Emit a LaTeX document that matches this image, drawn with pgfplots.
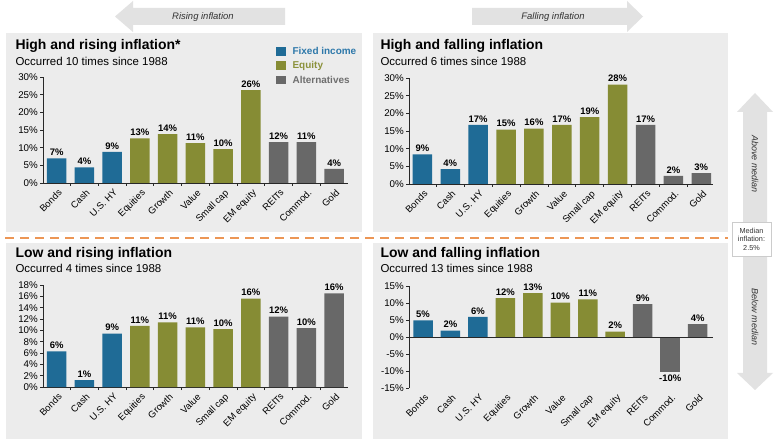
\documentclass[border=0pt]{standalone}
\usepackage{fontspec}
\setmainfont{Liberation Sans}
\usepackage{pgfplots}
\pgfplotsset{compat=1.18}

\definecolor{fi}{RGB}{31,107,150}
\definecolor{eq}{RGB}{134,140,52}
\definecolor{al}{RGB}{104,104,104}
\definecolor{fiT}{RGB}{45,120,170}
\definecolor{eqT}{RGB}{140,146,60}
\definecolor{alT}{RGB}{110,110,110}
\definecolor{panel}{RGB}{236,236,236}
\definecolor{arrowc}{RGB}{226,226,226}
\definecolor{dashc}{RGB}{236,150,85}
\definecolor{axc}{RGB}{40,40,40}

\pgfplotsset{
  panelaxis/.style={
    scale only axis, anchor=south west,
    ybar, bar width=19.5bp, bar shift=0pt,
    axis x line*=bottom, axis y line*=left,
    axis line style={axc, line width=0.7bp},
    xtick={0,...,10},
    xticklabels={Bonds,Cash,U.S. HY,Equities,Growth,Value,Small cap,EM equity,REITs,Commod.,Gold},
    xticklabel style={rotate=45, anchor=north east, inner sep=1bp, yshift=-1.5bp, font=\fontsize{9.5}{10}\selectfont},
    every major x tick/.append style={draw=none},
    minor xtick={0.5,1.5,...,9.5},
    tick align=outside, major tick length=3bp, minor tick length=3bp,
    tick style={axc, line width=0.6bp},
    /pgf/number format/assume math mode=true,
    yticklabel={\pgfmathprintnumber{\tick}\%},
    yticklabel style={font=\fontsize{9.8}{10}\selectfont, inner sep=2bp},
    nodes near coords={\pgfplotspointmeta\%},
    point meta=explicit symbolic,
    nodes near coords style={font=\bfseries\fontsize{9.5}{10}\selectfont, inner sep=2.5bp, text=black},
    every axis plot/.append style={draw=none},
    enlargelimits=false, clip=false,
  }
}

\begin{document}
\begin{tikzpicture}
\path[use as bounding box, fill=white] (0,0) rectangle (780bp,442bp);

% panels
\fill[panel] (6bp,409bp) rectangle (362bp,210bp);
\fill[panel] (373bp,409bp) rectangle (728bp,210bp);
\fill[panel] (6bp,199bp) rectangle (362bp,3bp);
\fill[panel] (373bp,199bp) rectangle (728bp,3bp);

% dashed separator
\draw[dashc, line width=2bp, dash pattern=on 9bp off 6bp] (5bp,204bp) -- (728bp,204bp);

% top arrows
\fill[arrowc] (115bp,425.5bp) -- (133bp,441bp) -- (133bp,434bp) -- (285bp,434bp) -- (285bp,417bp) -- (133bp,417bp) -- (133bp,410bp) -- cycle;
\node[font=\itshape\fontsize{9.5}{10}\selectfont, text=black!80] at (203bp,425bp) {Rising inflation};
\fill[arrowc] (643bp,425.5bp) -- (627bp,441bp) -- (627bp,434bp) -- (472bp,434bp) -- (472bp,417bp) -- (627bp,417bp) -- (627bp,410bp) -- cycle;
\node[font=\itshape\fontsize{9.5}{10}\selectfont, text=black!80] at (553bp,425bp) {Falling inflation};

% right vertical arrow
\fill[arrowc] (755bp,349bp) -- (773bp,330bp) -- (767bp,330bp) -- (767bp,69bp) -- (773bp,69bp) -- (755bp,52bp) -- (737bp,69bp) -- (743bp,69bp) -- (743bp,330bp) -- (737bp,330bp) -- cycle;
\node[rotate=-90, font=\itshape\fontsize{9}{10}\selectfont, text=black!80] at (755bp,278bp) {Above median};
\node[rotate=-90, font=\itshape\fontsize{9}{10}\selectfont, text=black!80] at (755bp,125bp) {Below median};
\draw[fill=white, draw=black!20, line width=0.8bp] (732bp,220bp) rectangle (771bp,186bp);
\node[align=center, font=\fontsize{7.3}{8.6}\selectfont, text=black!80] at (751.5bp,203bp) {Median\\inflation:\\2.5\%};

% titles
\node[anchor=base west, font=\bfseries\fontsize{14}{15}\selectfont] at (12bp,392bp) {High and rising inflation*};
\node[anchor=base west, font=\fontsize{11.5}{13}\selectfont] at (12bp,376bp) {Occurred 10 times since 1988};
\node[anchor=base west, font=\bfseries\fontsize{14}{15}\selectfont] at (377bp,392bp) {High and falling inflation};
\node[anchor=base west, font=\fontsize{11.5}{13}\selectfont] at (377bp,376bp) {Occurred 6 times since 1988};
\node[anchor=base west, font=\bfseries\fontsize{14}{15}\selectfont] at (12bp,184bp) {Low and rising inflation};
\node[anchor=base west, font=\fontsize{11.5}{13}\selectfont] at (12bp,169bp) {Occurred 4 times since 1988};
\node[anchor=base west, font=\bfseries\fontsize{14}{15}\selectfont] at (377bp,184bp) {Low and falling inflation};
\node[anchor=base west, font=\fontsize{11.5}{13}\selectfont] at (377bp,169bp) {Occurred 13 times since 1988};

% High and rising
\begin{axis}[panelaxis, at={(43bp,259bp)}, width=305bp, height=106bp,
  xmin=-0.49, xmax=10.5, ymin=0, ymax=30, ytick={0,5,...,30},
  legend style={at={(axis description cs:0.762,1.30)}, anchor=north west, draw=none, fill=none,
    font=\bfseries\fontsize{10}{10}\selectfont, row sep=1.5bp, inner sep=0pt, cells={anchor=west}},
  legend image code/.code={\fill[#1] (0bp,-4bp) rectangle (10bp,4.5bp); \path (15bp,0bp);},
]
\addplot[fill=fi] coordinates {(0,7.0)[7] (1,4.4)[4] (2,8.8)[9]};
\addlegendentry{\textcolor{fiT}{Fixed income}}
\addplot[fill=eq] coordinates {(3,12.6)[13] (4,13.8)[14] (5,11.3)[11] (6,9.6)[10] (7,26.3)[26]};
\addlegendentry{\textcolor{eqT}{Equity}}
\addplot[fill=al] coordinates {(8,11.6)[12] (9,11.6)[11] (10,4.0)[4]};
\addlegendentry{\textcolor{alT}{Alternatives}}
\end{axis}

% High and falling
\begin{axis}[panelaxis, at={(409bp,258bp)}, width=304bp, height=106bp,
  xmin=-0.48, xmax=10.42, ymin=0, ymax=30, ytick={0,5,...,30}]
\addplot[fill=fi] coordinates {(0,8.4)[9] (1,4.2)[4] (2,16.7)[17]};
\addplot[fill=eq] coordinates {(3,15.4)[15] (4,15.7)[16] (5,16.7)[17] (6,18.9)[19] (7,28.1)[28]};
\addplot[fill=al] coordinates {(8,16.7)[17] (9,2.3)[2] (10,3.1)[3]};
\end{axis}

% Low and rising
\begin{axis}[panelaxis, at={(43bp,55bp)}, width=305bp, height=102bp,
  xmin=-0.49, xmax=10.5, ymin=0, ymax=18, ytick={0,2,...,18}]
\addplot[fill=fi] coordinates {(0,6.3)[6] (1,1.2)[1] (2,9.4)[9]};
\addplot[fill=eq] coordinates {(3,10.8)[11] (4,11.4)[11] (5,10.5)[11] (6,10.2)[10] (7,15.6)[16]};
\addplot[fill=al] coordinates {(8,12.4)[12] (9,10.4)[10] (10,16.5)[16]};
\end{axis}

% Low and falling
\begin{axis}[panelaxis, at={(409bp,54bp)}, width=304bp, height=102bp,
  xmin=-0.51, xmax=10.56, ymin=-15, ymax=15, ytick={-15,-10,...,15},
  x axis line style={draw=none}, minor xtick={}]
\addplot[fill=fi] coordinates {(0,4.9)[5] (1,1.9)[2] (2,5.9)[6]};
\addplot[fill=eq] coordinates {(3,11.4)[12] (4,12.9)[13] (5,10.1)[10] (6,11.1)[11] (7,1.6)[2]};
\addplot[fill=al] coordinates {(8,9.7)[9] (10,3.8)[4]};
\addplot[fill=al, every node near coord/.append style={anchor=north}] coordinates {(9,-10.3)[-10]};
\end{axis}
\begin{axis}[scale only axis, anchor=south west, at={(409bp,54bp)}, width=304bp, height=102bp,
  xmin=-0.51, xmax=10.56, ymin=-15, ymax=15,
  axis y line=none, axis x line*=middle, axis line style={axc, line width=0.7bp},
  xtick=\empty, minor xtick={0.5,1.5,...,9.5}, tick align=outside, minor tick length=3bp,
  tick style={axc, line width=0.6bp}]
\end{axis}
\end{tikzpicture}
\end{document}
